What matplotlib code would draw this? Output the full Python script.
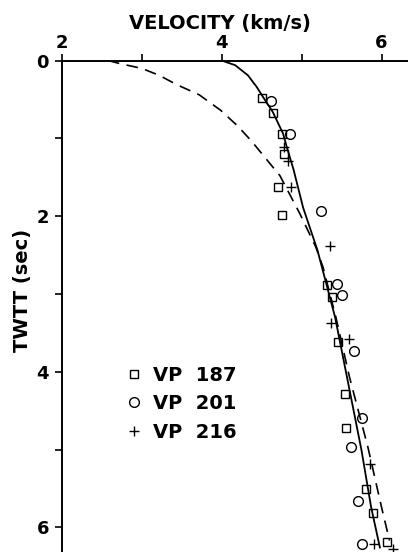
import numpy as np
import matplotlib
matplotlib.use("Agg")
import matplotlib.pyplot as plt

plt.rcParams['font.family'] = ['DejaVu Sans']
plt.rcParams['font.weight'] = 'bold'

# Interval velocities picked at three shot points (km/s vs two-way time, s)
vp187_v = [4.51, 4.64, 4.75, 4.78, 4.70, 4.76, 5.32, 5.38, 5.45, 5.54, 5.56, 5.80, 5.89, 6.07]
vp187_t = [0.48, 0.67, 0.95, 1.20, 1.62, 1.98, 2.88, 3.04, 3.62, 4.29, 4.73, 5.51, 5.81, 6.19]

vp201_v = [4.62, 4.86, 5.24, 5.44, 5.50, 5.66, 5.75, 5.62, 5.70, 5.76]
vp201_t = [0.52, 0.95, 1.93, 2.87, 3.02, 3.73, 4.59, 4.97, 5.66, 6.21]

vp216_v = [4.78, 4.83, 4.87, 5.36, 5.37, 5.59, 5.85, 5.91, 6.14]
vp216_t = [1.11, 1.29, 1.63, 2.38, 3.37, 3.58, 5.19, 6.21, 6.28]

# Smooth velocity functions
solid_v = [4.00, 4.17, 4.33, 4.44, 4.52, 4.64, 4.77, 4.81, 4.90, 5.02, 5.20, 5.31, 5.42, 5.75, 5.87, 5.98]
solid_t = [0.00, 0.06, 0.19, 0.34, 0.47, 0.66, 0.94, 1.09, 1.40, 1.89, 2.44, 2.87, 3.30, 5.01, 5.74, 6.26]

dashed_v = [2.58, 2.75, 3.00, 3.22, 3.44, 3.72, 3.99, 4.21, 4.37, 4.73, 4.98, 5.18, 5.27,
            5.43, 5.60, 5.83, 6.00, 6.10]
dashed_t = [0.00, 0.045, 0.10, 0.19, 0.31, 0.44, 0.64, 0.85, 1.03, 1.48, 1.97, 2.40, 2.66,
            3.30, 4.07, 4.97, 5.74, 6.17]

fig = plt.figure(figsize=(4.08, 5.52), dpi=100)
ax = fig.add_axes([61.5 / 408, 0.0, 1 - 61.5 / 408, 1 - 60.5 / 552])

ax.plot(solid_v, solid_t, color='black', lw=1.3)
ax.plot(dashed_v, dashed_t, color='black', lw=1.2, dashes=(7, 4.5))

ms = 6
ax.plot(vp187_v, vp187_t, 's', ms=ms - 0.5, mfc='none', mec='black', mew=1.0, label='VP  187')
ax.plot(vp201_v, vp201_t, 'o', ms=ms + 1, mfc='none', mec='black', mew=1.0, label='VP  201')
ax.plot(vp216_v, vp216_t, '+', ms=ms + 1, mec='black', mew=1.0, label='VP  216')

ax.set_xlim(2, 2 + (408 - 61.5) / 80)
ax.set_ylim((552 - 60.5) / 77.8, 0)

ax.xaxis.tick_top()
ax.set_xticks([2, 4, 6])
ax.set_xticks([3, 5], minor=True)
ax.set_yticks([0, 2, 4, 6])
ax.set_yticks([1, 3, 5], minor=True)
ax.tick_params(which='both', direction='out', length=5, width=1.2, color='black',
               labelsize=13)
ax.tick_params(axis='y', which='both', left=True, right=False, pad=4)
ax.tick_params(axis='x', which='both', top=True, bottom=False, pad=1)

for side in ['right', 'bottom']:
    ax.spines[side].set_visible(False)
for side in ['left', 'top']:
    ax.spines[side].set_linewidth(1.4)

fig.text(220 / 408, 1 - 24 / 552, 'VELOCITY (km/s)', ha='center', va='center',
         fontsize=14, fontweight='bold')
fig.text(23 / 408, 1 - 290 / 552, 'TWTT (sec)', ha='center', va='center',
         rotation=90, fontsize=14, fontweight='bold')

leg = ax.legend(loc='upper left', bbox_to_anchor=(0.13, 0.415), frameon=False,
                fontsize=14, handletextpad=0.5, labelspacing=0.5, handlelength=1.0)

fig.savefig('out.png', dpi=100)
